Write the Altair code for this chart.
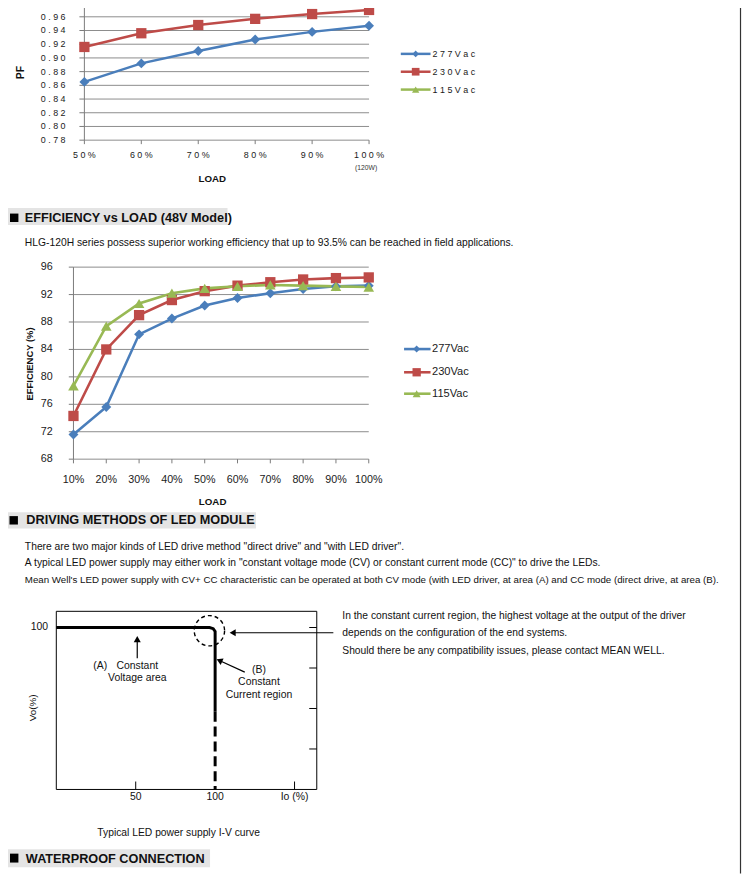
import altair as alt
import pandas as pd

# ---------------- values ----------------
series_names = ["277Vac", "230Vac", "115Vac"]
series_colors = ["#4A7EBB", "#BE4B48", "#98B954"]
series_shapes = ["diamond", "square", "triangle-up"]

pf_load = [50, 60, 70, 80, 90, 100]
pf_load_labels = ["50%", "60%", "70%", "80%", "90%", "100%"]
pf_277 = [0.865, 0.892, 0.910, 0.927, 0.938, 0.947]
pf_230 = [0.916, 0.936, 0.948, 0.957, 0.964, 0.970]
pf_ticks = [0.78, 0.80, 0.82, 0.84, 0.86, 0.88, 0.90, 0.92, 0.94, 0.96, 0.98]
pf_tick_labels = ["0.78", "0.80", "0.82", "0.84", "0.86", "0.88", "0.90", "0.92", "0.94", "0.96", "0.98"]

eff_load = [10, 20, 30, 40, 50, 60, 70, 80, 90, 100]
eff_load_labels = ["10%", "20%", "30%", "40%", "50%", "60%", "70%", "80%", "90%", "100%"]
eff_277 = [71.6, 75.6, 86.2, 88.5, 90.4, 91.5, 92.2, 92.8, 93.2, 93.3]
eff_230 = [74.3, 84.0, 89.0, 91.2, 92.5, 93.3, 93.8, 94.2, 94.4, 94.5]
eff_115 = [78.7, 87.4, 90.7, 92.2, 92.9, 93.2, 93.4, 93.3, 93.2, 93.1]
eff_ticks = [68, 72, 76, 80, 84, 88, 92, 96]
eff_tick_labels = ["68", "72", "76", "80", "84", "88", "92", "96"]

iv_io = [0, 96.5, 98.8, 100, 100]
iv_vo = [100, 100, 99.3, 97.6, 48]
iv_dash_io = [100]
iv_dash_top = [48]
iv_dash_bottom = [0]
iv_tick_vo = [25, 50, 75, 100]
iv_tick_io = [50, 150]
iv_x_label_io = [50, 100, 150]
iv_x_labels = ["50", "100", "Io (%)"]
iv_y_label_vo = [100]
iv_y_labels = ["100"]
iv_knee_io = [96.4]
iv_knee_vo = [98.0]

pf_title = "PF"
eff_title = "EFFICIENCY (%)"
load_title = "LOAD"
header_1 = "EFFICIENCY vs LOAD (48V Model)"
sub_1 = "HLG-120H series possess superior working efficiency that up to 93.5% can be reached in field applications."
header_2 = "DRIVING METHODS OF LED MODULE"
para_2 = [
    'There are two major kinds of LED drive method "direct drive" and "with LED driver".',
    'A typical LED power supply may either work in "constant voltage mode (CV) or constant current mode (CC)" to drive the LEDs.',
    "Mean Well's LED power supply with CV+ CC characteristic can be operated at both CV mode (with LED driver, at area (A) and CC mode (direct drive, at area (B).",
]
right_text = [
    "In the constant current region, the highest voltage at the output of the driver",
    "depends on the configuration of the end systems.",
    "Should there be any compatibility issues, please contact MEAN WELL.",
]
iv_caption = "Typical LED power supply I-V curve"
header_3 = "WATERPROOF CONNECTION"

# ---------------- layout helpers ----------------
OX, OY = 8, 8
FONT = "Liberation Sans"
INK = "#111111"
GRID = "#8c8c8c"


def X(v):
    return v - OX


def Y(v):
    return v - OY


one = pd.DataFrame({"k": [0]})


def txt(s, x, y, size, bold=False, align="left", angle=0, color=INK):
    kw = dict(text=s, fontSize=size, align=align, baseline="middle", color=color, font=FONT)
    if bold:
        kw["fontWeight"] = "bold"
    if angle:
        kw["angle"] = angle
    return alt.Chart(one).mark_text(**kw).encode(x=alt.value(X(x)), y=alt.value(Y(y)))


def rect(x1, y1, x2, y2, color):
    return alt.Chart(one).mark_rect(color=color).encode(
        x=alt.value(X(x1)), x2=alt.value(X(x2)), y=alt.value(Y(y1)), y2=alt.value(Y(y2)))


def rule(x1, y1, x2, y2, color="#000", w=1.0, dash=None):
    kw = dict(color=color, strokeWidth=w)
    if dash:
        kw["strokeDash"] = dash
    return alt.Chart(one).mark_rule(**kw).encode(
        x=alt.value(X(x1)), x2=alt.value(X(x2)), y=alt.value(Y(y1)), y2=alt.value(Y(y2)))


def sym(x, y, shape, size, color, angle=0):
    kw = dict(shape=shape, size=size, color=color, filled=True, opacity=1)
    if angle:
        kw["angle"] = angle
    return alt.Chart(one).mark_point(**kw).encode(x=alt.value(X(x)), y=alt.value(Y(y)))


def spaced(s):
    return " ".join(s)


color_scale = alt.Scale(domain=series_names, range=series_colors)
shape_scale = alt.Scale(domain=series_names, range=series_shapes)

# ---------------- PF chart ----------------
pf_xs = alt.Scale(domain=[50, 100], range=[X(85), X(372)], nice=False, zero=False)
pf_ys = alt.Scale(domain=[0.78, 0.98], range=[Y(137.7), Y(-0.5)], nice=False, zero=False)

pf_long = pd.DataFrame({
    "load": pf_load * 2,
    "pf": pf_277 + pf_230,
    "series": [series_names[0]] * len(pf_load) + [series_names[1]] * len(pf_load),
})
pf_tick_df = pd.DataFrame({"v": pf_ticks, "lab": [spaced(s) for s in pf_tick_labels]})
pf_load_df = pd.DataFrame({"load": pf_load, "lab": [spaced(s) for s in pf_load_labels]})

pf_grid = alt.Chart(pf_tick_df).mark_rule(color=GRID, strokeWidth=1).encode(
    y=alt.Y("v:Q", scale=pf_ys, axis=None),
    x=alt.XDatum(50, scale=pf_xs, axis=None), x2=alt.X2Datum(100))
pf_yaxis = alt.Chart(one).mark_rule(color="#7a7a7a", strokeWidth=1).encode(
    x=alt.XDatum(50, scale=pf_xs, axis=None),
    y=alt.YDatum(0.78, scale=pf_ys, axis=None), y2=alt.Y2Datum(0.98))
pf_yticks = alt.Chart(pf_tick_df).mark_rule(color="#7a7a7a").encode(
    y=alt.Y("v:Q", scale=pf_ys, axis=None), x=alt.value(X(80)), x2=alt.value(X(85)))
pf_ylabels = alt.Chart(pf_tick_df).mark_text(align="right", baseline="middle", fontSize=9,
                                             font=FONT, color="#1a1a1a").encode(
    y=alt.Y("v:Q", scale=pf_ys, axis=None), x=alt.value(X(66)), text="lab:N")
pf_xticks = alt.Chart(pf_load_df).mark_rule(color="#7a7a7a").encode(
    x=alt.X("load:Q", scale=pf_xs, axis=None), y=alt.value(Y(137.7)), y2=alt.value(Y(141.7)))
pf_xlabels = alt.Chart(pf_load_df).mark_text(align="center", baseline="middle", fontSize=9,
                                             font=FONT, color="#1a1a1a").encode(
    x=alt.X("load:Q", scale=pf_xs, axis=None), y=alt.value(Y(153)), text="lab:N")
pf_lines = alt.Chart(pf_long).mark_line(strokeWidth=2.5).encode(
    x=alt.X("load:Q", scale=pf_xs, axis=None),
    y=alt.Y("pf:Q", scale=pf_ys, axis=None),
    color=alt.Color("series:N", scale=color_scale, legend=None),
    detail="series:N")
pf_points = alt.Chart(pf_long).mark_point(filled=True, opacity=1).encode(
    x=alt.X("load:Q", scale=pf_xs, axis=None),
    y=alt.Y("pf:Q", scale=pf_ys, axis=None),
    color=alt.Color("series:N", scale=color_scale, legend=None),
    shape=alt.Shape("series:N", scale=shape_scale, legend=None),
    size=alt.Size("series:N", scale=alt.Scale(domain=series_names, range=[100, 115, 120]), legend=None))

pf_chart = alt.layer(pf_grid, pf_yaxis, pf_yticks, pf_ylabels, pf_xticks, pf_xlabels, pf_lines, pf_points)

# ---------------- Efficiency chart ----------------
eff_xs = alt.Scale(domain=[10, 100], range=[X(74), X(371.7)], nice=False, zero=False)
eff_ys = alt.Scale(domain=[68, 96], range=[Y(459.3), Y(265.7)], nice=False, zero=False)

eff_long = pd.DataFrame({
    "load": eff_load * 3,
    "eff": eff_277 + eff_230 + eff_115,
    "series": sum([[n] * len(eff_load) for n in series_names], []),
})
eff_tick_df = pd.DataFrame({"v": eff_ticks, "lab": eff_tick_labels})
eff_load_df = pd.DataFrame({"load": eff_load, "lab": eff_load_labels})

eff_grid = alt.Chart(eff_tick_df).mark_rule(color=GRID, strokeWidth=1).encode(
    y=alt.Y("v:Q", scale=eff_ys, axis=None),
    x=alt.XDatum(10, scale=eff_xs, axis=None), x2=alt.X2Datum(100))
eff_yaxis = alt.Chart(one).mark_rule(color="#7a7a7a", strokeWidth=1).encode(
    x=alt.XDatum(10, scale=eff_xs, axis=None),
    y=alt.YDatum(68, scale=eff_ys, axis=None), y2=alt.Y2Datum(96))
eff_yticks = alt.Chart(eff_tick_df).mark_rule(color="#7a7a7a").encode(
    y=alt.Y("v:Q", scale=eff_ys, axis=None), x=alt.value(X(69.3)), x2=alt.value(X(74)))
eff_ylabels = alt.Chart(eff_tick_df).mark_text(align="right", baseline="middle", fontSize=10.8,
                                               font=FONT, color="#1a1a1a").encode(
    y=alt.Y("v:Q", scale=eff_ys, axis=None), x=alt.value(X(53)), text="lab:N")
eff_xticks = alt.Chart(eff_load_df).mark_rule(color="#7a7a7a").encode(
    x=alt.X("load:Q", scale=eff_xs, axis=None), y=alt.value(Y(459.3)), y2=alt.value(Y(463.5)))
eff_xlabels = alt.Chart(eff_load_df).mark_text(align="center", baseline="middle", fontSize=10.8,
                                               font=FONT, color="#1a1a1a").encode(
    x=alt.X("load:Q", scale=eff_xs, axis=None), y=alt.value(Y(480)), text="lab:N")
eff_lines = alt.Chart(eff_long).mark_line(strokeWidth=2.6).encode(
    x=alt.X("load:Q", scale=eff_xs, axis=None),
    y=alt.Y("eff:Q", scale=eff_ys, axis=None),
    color=alt.Color("series:N", scale=color_scale, legend=None),
    detail="series:N")
eff_points = alt.Chart(eff_long).mark_point(filled=True, opacity=1).encode(
    x=alt.X("load:Q", scale=eff_xs, axis=None),
    y=alt.Y("eff:Q", scale=eff_ys, axis=None),
    color=alt.Color("series:N", scale=color_scale, legend=None),
    shape=alt.Shape("series:N", scale=shape_scale, legend=None),
    size=alt.Size("series:N", scale=alt.Scale(domain=series_names, range=[110, 100, 140]), legend=None))

eff_chart = alt.layer(eff_grid, eff_yaxis, eff_yticks, eff_ylabels, eff_xticks, eff_xlabels, eff_lines, eff_points)

# ---------------- I-V curve ----------------
iv_xs = alt.Scale(domain=[0, 164], range=[X(56.7), X(319.3)], nice=False, zero=False)
iv_ys = alt.Scale(domain=[0, 110], range=[Y(792.3), Y(612.7)], nice=False, zero=False)

iv_df = pd.DataFrame({"io": iv_io, "vo": iv_vo, "i": list(range(len(iv_io)))})
iv_dash_df = pd.DataFrame({"io": iv_dash_io, "top": iv_dash_top, "bot": iv_dash_bottom})
iv_vt_df = pd.DataFrame({"vo": iv_tick_vo})
iv_it_df = pd.DataFrame({"io": iv_tick_io})
iv_xl_df = pd.DataFrame({"io": iv_x_label_io, "lab": iv_x_labels})
iv_yl_df = pd.DataFrame({"vo": iv_y_label_vo, "lab": iv_y_labels})
iv_knee_df = pd.DataFrame({"io": iv_knee_io, "vo": iv_knee_vo})

iv_box = alt.Chart(one).mark_rect(fillOpacity=0, stroke="#000", strokeWidth=1).encode(
    x=alt.XDatum(0, scale=iv_xs, axis=None), x2=alt.X2Datum(164),
    y=alt.YDatum(0, scale=iv_ys, axis=None), y2=alt.Y2Datum(110))
iv_line = alt.Chart(iv_df).mark_line(color="#000", strokeWidth=3).encode(
    x=alt.X("io:Q", scale=iv_xs, axis=None), y=alt.Y("vo:Q", scale=iv_ys, axis=None), order="i:Q")
iv_dash = alt.Chart(iv_dash_df).mark_rule(color="#000", strokeWidth=3, strokeDash=[10, 5]).encode(
    x=alt.X("io:Q", scale=iv_xs, axis=None), y=alt.Y("top:Q", scale=iv_ys, axis=None), y2="bot:Q")
iv_vticks = alt.Chart(iv_vt_df).mark_rule(color="#000").encode(
    y=alt.Y("vo:Q", scale=iv_ys, axis=None), x=alt.value(X(311.7)), x2=alt.value(X(319.3)))
iv_iticks = alt.Chart(iv_it_df).mark_rule(color="#000").encode(
    x=alt.X("io:Q", scale=iv_xs, axis=None), y=alt.value(Y(792.3)), y2=alt.value(Y(784.3)))
iv_xlabels = alt.Chart(iv_xl_df).mark_text(align="center", baseline="middle", fontSize=10.5,
                                           font=FONT, color=INK).encode(
    x=alt.X("io:Q", scale=iv_xs, axis=None), y=alt.value(Y(799.5)), text="lab:N")
iv_ylabels = alt.Chart(iv_yl_df).mark_text(align="right", baseline="middle", fontSize=10.5,
                                           font=FONT, color=INK).encode(
    y=alt.Y("vo:Q", scale=iv_ys, axis=None), x=alt.value(X(48.5)), text="lab:N")
iv_knee = alt.Chart(iv_knee_df).mark_point(shape="circle", size=936, filled=False, color="#000",
                                           strokeWidth=1.4, strokeDash=[4, 3], opacity=1).encode(
    x=alt.X("io:Q", scale=iv_xs, axis=None), y=alt.Y("vo:Q", scale=iv_ys, axis=None))

iv_chart = alt.layer(iv_box, iv_line, iv_dash, iv_vticks, iv_iticks, iv_xlabels, iv_ylabels, iv_knee)

# ---------------- page decoration, legends and text ----------------
deco = []

# PF axis titles
deco.append(txt(pf_title, 21, 69.5, 10.5, bold=True, align="center", angle=270))
deco.append(txt(load_title, 214, 177, 9.8, bold=True, align="center"))
deco.append(txt("(120W)", 369, 166, 6.8, align="center", color="#333"))

# PF legend
for i, yy in enumerate([50.7, 68.7, 86.7]):
    deco.append(rule(404, yy, 434, yy, series_colors[i], 2.5))
    deco.append(sym(419, yy, series_shapes[i], [45, 60, 55][i], series_colors[i]))
    deco.append(txt(spaced(series_names[i]), 436, yy, 9, color="#1a1a1a"))

# Header 1
deco.append(rect(6, 206, 229.3, 223.3, "#e4e4e4"))
deco.append(rect(10, 211.7, 18.5, 220.2, "#000"))
deco.append(txt(header_1, 25, 216, 12.8, bold=True))
deco.append(txt(sub_1, 25, 241, 10.4))

# Efficiency axis titles
deco.append(txt(eff_title, 30, 363.3, 9.5, bold=True, align="center", angle=270))
deco.append(txt(load_title, 214.3, 503, 9.8, bold=True, align="center"))

# Efficiency legend
for i, yy in enumerate([348.3, 371.7, 393.3]):
    deco.append(rule(407.3, yy, 434, yy, series_colors[i], 2.6))
    deco.append(sym(420, yy, series_shapes[i], [50, 70, 65][i], series_colors[i]))
    deco.append(txt(series_names[i], 435.5, yy, 11.2, color="#1a1a1a"))

# Header 2 + paragraph
deco.append(rect(5, 512.7, 258, 529.3, "#e4e4e4"))
deco.append(rect(9.5, 516.7, 18, 525.2, "#000"))
deco.append(txt(header_2, 26.5, 521, 12.8, bold=True))
for s, yy, fs in zip(para_2, [548.3, 564, 580.7], [10.4, 10.4, 9.8]):
    deco.append(txt(s, 25, yy, fs))

# Right-hand explanation text
for s, yy in zip(right_text, [617.3, 635, 652.7]):
    deco.append(txt(s, 345, yy, 10.4))

# I-V annotations
deco.append(txt("Vo(%)", 33.3, 710, 10, align="center", angle=270))
deco.append(txt("(A)", 101, 667.7, 10.5, align="center"))
deco.append(txt("Constant", 138.3, 667.7, 10.5, align="center"))
deco.append(txt("Voltage area", 138.3, 680.3, 10.5, align="center"))
deco.append(txt("(B)", 261, 671.7, 10.5, align="center"))
deco.append(txt("Constant", 261, 684.3, 10.5, align="center"))
deco.append(txt("Current region", 261, 696.7, 10.5, align="center"))
deco.append(txt(iv_caption, 180, 836, 10.4, align="center"))
# arrows
deco.append(rule(336, 634.3, 236, 634.3, "#000", 1.2))
deco.append(sym(234.5, 634.3, "triangle-left", 50, "#000"))
deco.append(rule(138.3, 660, 138.3, 643, "#000", 1.2))
deco.append(sym(138.3, 640.7, "triangle-up", 50, "#000"))
deco.append(rule(246.7, 674, 221.1, 662.3, "#000", 1.2))
deco.append(sym(221.1, 662.3, "triangle-up", 50, "#000", angle=294.6))

# Header 3
deco.append(rect(6, 852.7, 211.7, 870.7, "#e4e4e4"))
deco.append(rect(10, 857, 18.5, 866, "#000"))
deco.append(txt(header_3, 26, 862, 12.8, bold=True))

# page frame (right edge)
deco.append(rule(746.5, 0, 746.5, 877, "#333", 1.2))

chart = alt.layer(pf_chart, eff_chart, iv_chart, *deco).resolve_scale(
    x="independent", y="independent"
).properties(
    width=740, height=869, padding=0, background="white",
    autosize=alt.AutoSizeParams(type="none"),
).configure_view(stroke=None)

chart.save("out.html", embed_options={"renderer": "svg", "actions": False})
